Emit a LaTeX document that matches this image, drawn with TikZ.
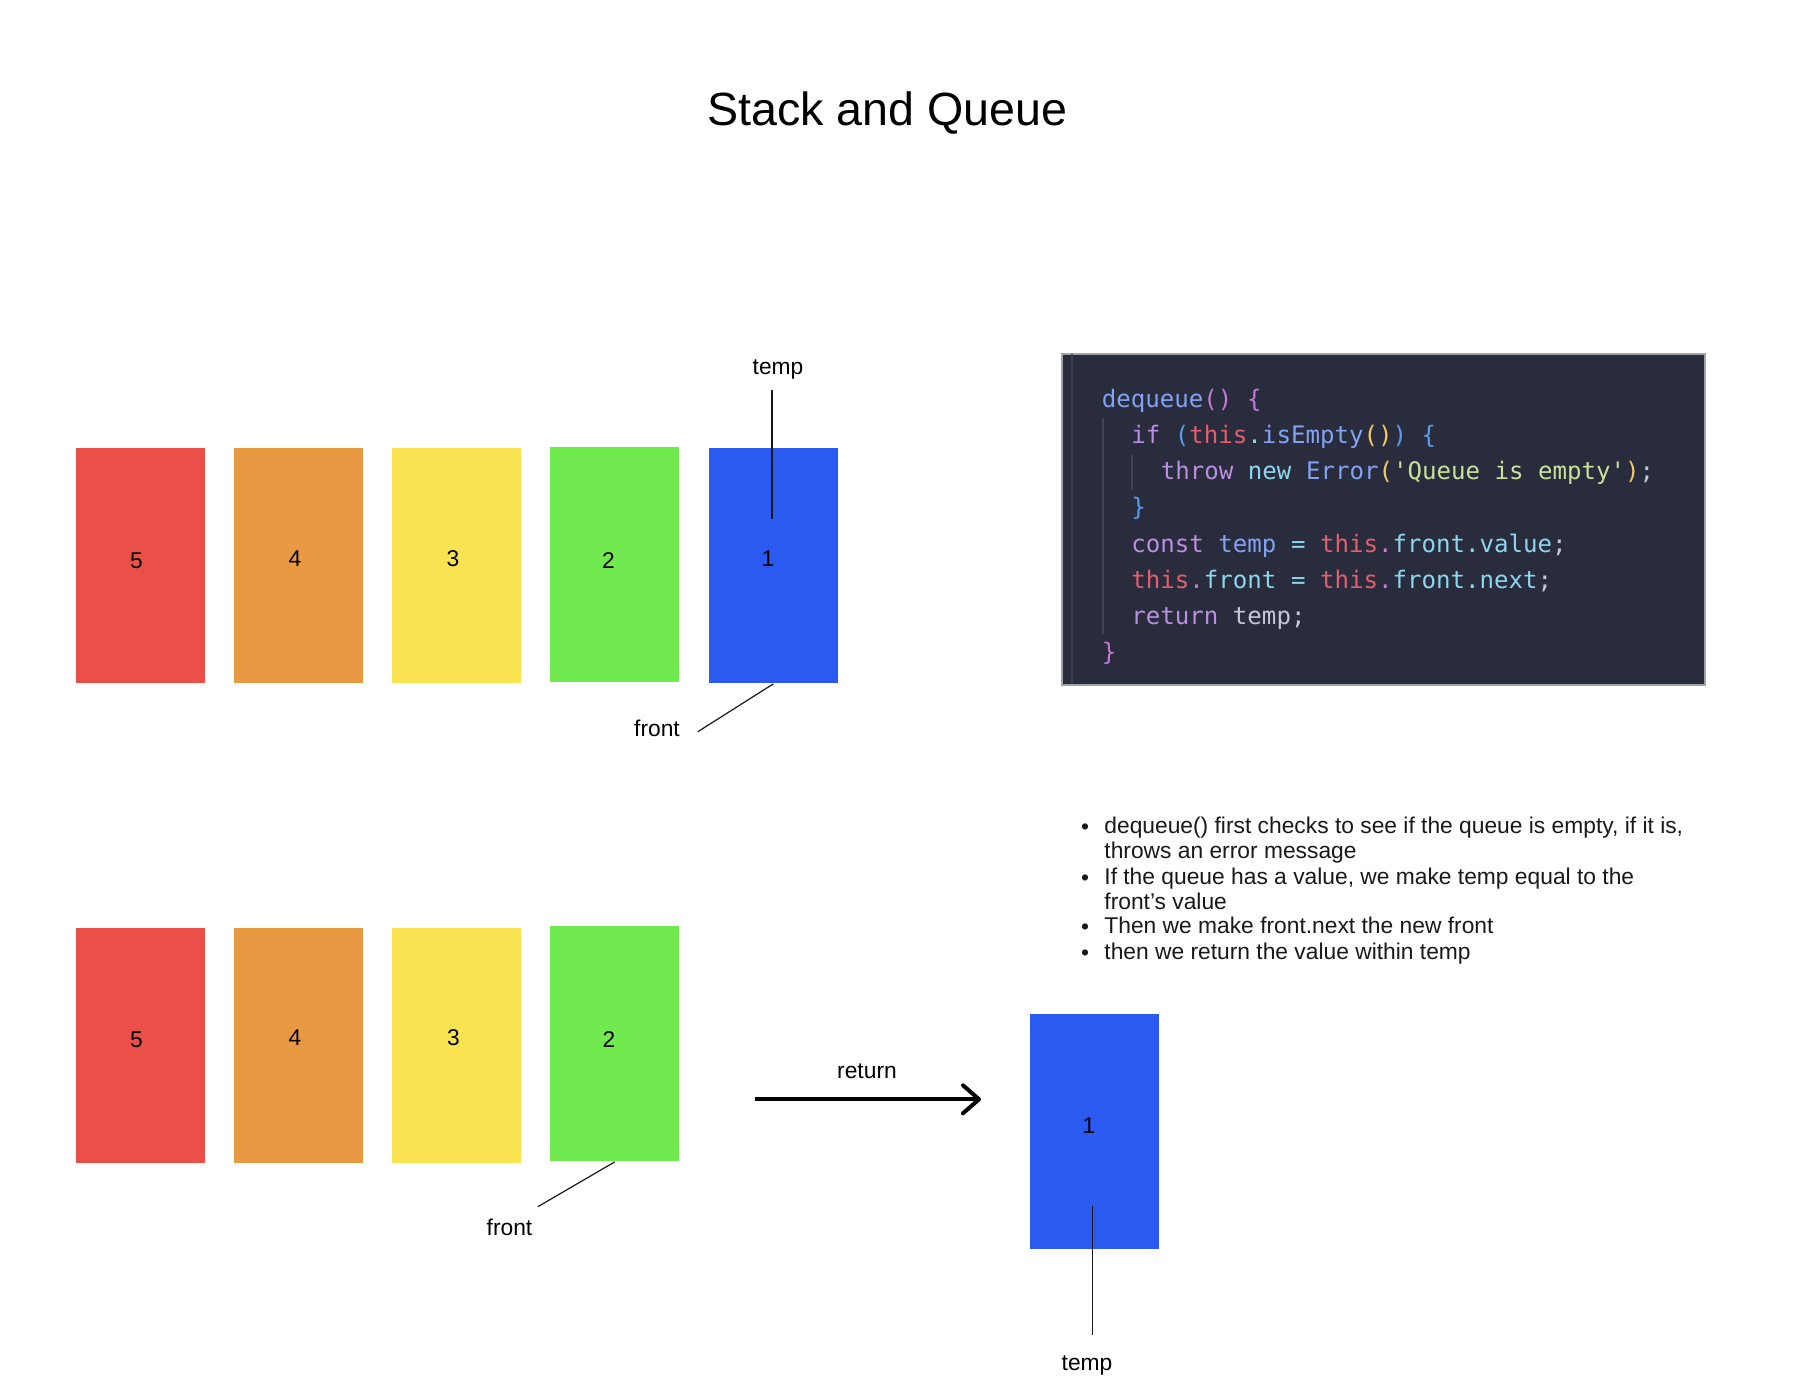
\documentclass[tikz,border=0pt]{standalone}
\usepackage{fontspec}
\setmainfont{Liberation Sans}
\newfontfamily\codefont{DejaVu Sans Mono}
\usetikzlibrary{arrows.meta}
\definecolor{qred}{HTML}{EB5048}
\definecolor{qorange}{HTML}{E89942}
\definecolor{qyellow}{HTML}{F9E350}
\definecolor{qgreen}{HTML}{70EA4E}
\definecolor{qblue}{HTML}{2B5AF0}
\definecolor{codebg}{HTML}{292C3C}
\definecolor{codegutter}{HTML}{3A3D4F}
\definecolor{codeborder}{HTML}{A0A2A8}
\definecolor{codeguide}{HTML}{3F4355}
\definecolor{cPur}{HTML}{BA8EE0}
\definecolor{cBlue}{HTML}{82A2F2}
\definecolor{cRed}{HTML}{E0606E}
\definecolor{cCyan}{HTML}{8DD6EE}
\definecolor{cGreen}{HTML}{C9E29A}
\definecolor{cYel}{HTML}{F2CC60}
\definecolor{cPink}{HTML}{C679D8}
\definecolor{cBrBlue}{HTML}{5F9BEA}
\definecolor{cText}{HTML}{C3C8D6}
\newcommand\codec[2]{\textcolor{#1}{#2}}
\begin{document}
\begin{tikzpicture}[x=0.5pt,y=-0.5pt,
  cell/.style={draw=none, minimum width=64.5pt, minimum height=117.5pt, inner sep=0pt, anchor=north west},
  lbl/.style={font=\fontsize{11.4}{13}\selectfont, inner sep=0pt, text=black},
  ptr/.style={draw=black!90, line width=0.6pt},
  codeline/.style={font=\codefont\fontsize{12.05}{14}\selectfont, inner sep=0pt, anchor=mid west, text=cText},
  bul/.style={font=\fontsize{11.4}{13}\selectfont, inner sep=0pt, anchor=mid west, text=black!90},
  dot/.style={font=\fontsize{11.4}{13}\selectfont, inner sep=0pt, text=black!90}
]
\useasboundingbox (0,0) rectangle (1810,1394);
\fill[white] (0,0) rectangle (1810,1394);

% title
\node[font=\fontsize{23.3}{27}\selectfont, inner sep=0pt, anchor=base] (title) at (887.5,125) {Stack and Queue};

% top row
\node[cell, fill=qred]    (t5) at (76,448)  {};
\node[cell, fill=qorange] (t4) at (234,448) {};
\node[cell, fill=qyellow] (t3) at (392,448) {};
\node[cell, fill=qgreen]  (t2) at (550,447) {};
\node[cell, fill=qblue]   (t1) at (708.5,448) {};
\node[lbl] (n5) at (136.5,560.5) {5};
\node[lbl] (n4) at (295,559) {4};
\node[lbl] (n3) at (453,559) {3};
\node[lbl] (n2) at (608.5,560.5) {2};
\node[lbl] (n1) at (768,559) {1};

\node[lbl] (temptop) at (778,369) {temp};
\coordinate (ttA) at (772,390);
\coordinate (ttB) at (772,519);
\draw[ptr] (ttA) -- (ttB);
\node[lbl] (fronttop) at (657,728) {front};
\coordinate (ftA) at (697.8,731.7);
\draw[ptr] (ftA) -- (t1.south);

% code block
\node[draw=codeborder, line width=0.8pt, fill=codebg, minimum width=321.5pt, minimum height=165.5pt, inner sep=0pt, anchor=north west] (code) at (1061,353) {};
\coordinate (gA) at (1072,354);
\coordinate (gB) at (1072,683);
\draw[codegutter, line width=1.2pt] (gA) -- (gB);
\coordinate (ig1a) at (1103,418);
\coordinate (ig1b) at (1103,634);
\draw[codeguide, line width=0.8pt] (ig1a) -- (ig1b);
\coordinate (ig2a) at (1132,455);
\coordinate (ig2b) at (1132,490);
\draw[codeguide, line width=0.8pt] (ig2a) -- (ig2b);

\node[codeline] (c1) at (1101.5,402.5) {\codec{cBlue}{dequeue}\codec{cPink}{()} \codec{cPink}{\{}};
\node[codeline] (c2) at (1131,438.5) {\codec{cPur}{if} \codec{cBrBlue}{(}\codec{cRed}{this}\codec{cCyan}{.}\codec{cBlue}{isEmpty}\codec{cYel}{()}\codec{cBrBlue}{)} \codec{cBrBlue}{\{}};
\node[codeline] (c3) at (1160.5,474.5) {\codec{cPur}{throw} \codec{cCyan}{new} \codec{cBlue}{Error}\codec{cYel}{(}\codec{cGreen}{\textquotesingle Queue is empty\textquotesingle}\codec{cYel}{)}\codec{cText}{;}};
\node[codeline] (c4) at (1131,510) {\codec{cBrBlue}{\}}};
\node[codeline] (c5) at (1131,547.5) {\codec{cPur}{const} \codec{cBlue}{temp} \codec{cCyan}{=} \codec{cRed}{this}\codec{cPink}{.}\codec{cCyan}{front}\codec{cCyan}{.}\codec{cCyan}{value}\codec{cText}{;}};
\node[codeline] (c6) at (1131,583.5) {\codec{cRed}{this}\codec{cPink}{.}\codec{cCyan}{front} \codec{cCyan}{=} \codec{cRed}{this}\codec{cPink}{.}\codec{cCyan}{front}\codec{cCyan}{.}\codec{cCyan}{next}\codec{cText}{;}};
\node[codeline] (c7) at (1131,619.5) {\codec{cPur}{return} \codec{cText}{temp;}};
\node[codeline] (c8) at (1101.5,655) {\codec{cPink}{\}}};

% bullets
\node[dot] (d1) at (1085,829) {\textbullet};
\node[bul] (b1a) at (1104,828) {dequeue() first checks to see if the queue is empty, if it is,};
\node[bul] (b1b) at (1104,853.4) {throws an error message};
\node[dot] (d2) at (1085,879.8) {\textbullet};
\node[bul] (b2a) at (1104,878.8) {If the queue has a value, we make temp equal to the};
\node[bul] (b2b) at (1104,904.2) {front’s value};
\node[dot] (d3) at (1085,929.6) {\textbullet};
\node[bul] (b3) at (1104,928.6) {Then we make front.next the new front};
\node[dot] (d4) at (1085,955) {\textbullet};
\node[bul] (b4) at (1104,954) {then we return the value within temp};

% bottom row
\node[cell, fill=qred]    (u5) at (76,928)  {};
\node[cell, fill=qorange] (u4) at (234,928) {};
\node[cell, fill=qyellow] (u3) at (392,928) {};
\node[cell, fill=qgreen]  (u2) at (550,926) {};
\node[lbl] (m5) at (136.4,1039.5) {5};
\node[lbl] (m4) at (295,1038) {4};
\node[lbl] (m3) at (453.5,1038) {3};
\node[lbl] (m2) at (609,1039.5) {2};

\node[lbl] (frontbot) at (509.5,1227.5) {front};
\coordinate (fbA) at (537.8,1206.7);
\draw[ptr] (fbA) -- (u2.south);

% return arrow
\node[lbl] (ret) at (867,1071.5) {return};
\coordinate (arA) at (754.5,1099.3);
\coordinate (arB) at (981,1099.3);
\draw[line width=2pt, -{Straight Barb[length=8pt,width=14pt,round]}] (arA) -- (arB);

% returned node
\node[cell, fill=qblue] (v1) at (1030,1014) {};
\node[lbl] (m1) at (1089,1126) {1};
\coordinate (tbA) at (1092.7,1206);
\coordinate (tbB) at (1092.7,1335);
\draw[ptr] (tbA) -- (tbB);
\node[lbl] (tempbot) at (1087,1365.5) {temp};
\end{tikzpicture}
\end{document}
